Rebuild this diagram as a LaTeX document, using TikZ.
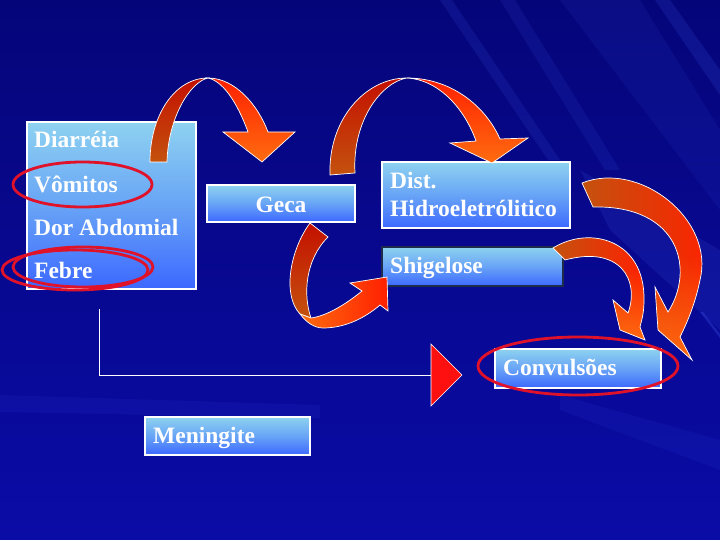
\documentclass[tikz,border=0pt]{standalone}
\usepackage{fontspec}
\setmainfont{Liberation Serif}
\usetikzlibrary{fadings}
\definecolor{bgtop}{HTML}{05057A}
\definecolor{bgbot}{HTML}{0A0CA6}
\definecolor{streakc}{HTML}{4A6CFF}
\definecolor{boxtop}{HTML}{8ED2F0}
\definecolor{boxmid}{HTML}{68A4F6}
\definecolor{boxbot}{HTML}{3C68FF}
\definecolor{ringred}{HTML}{E0122A}
\definecolor{darkred}{HTML}{C41000}
\definecolor{brownor}{HTML}{C4520E}
\definecolor{brightred}{HTML}{FF2000}
\definecolor{midred}{HTML}{E81800}
\definecolor{orng}{HTML}{FF6C10}
\definecolor{shigborder}{HTML}{1E2C4C}
\definecolor{trired}{HTML}{FF1010}
\newcommand\lblfont{\fontsize{23.5}{26}\selectfont\bfseries}
\begin{document}
\begin{tikzpicture}[x=1pt,y=-1pt,
  box/.style={draw=white,line width=1.6pt,top color=boxtop,bottom color=boxbot,middle color=boxmid,
              anchor=north west,inner sep=0pt,outer sep=0pt},
  lbl/.style={text=white,font=\lblfont,inner sep=0pt,anchor=base west},
  ring/.style={draw=ringred,line width=2.8pt},
  arr/.style={draw=white,line width=0.7pt},
  conn/.style={draw=white,line width=1pt},
  streak/.style={fill=streakc}]
\useasboundingbox (0,0) rectangle (720,540);
% background
\shade[top color=bgtop,bottom color=bgbot] (0,0) rectangle (720,540);
\fill[streak,opacity=0.12] (440,0) -- (452,0) -- (560,160) -- (548,160) -- cycle;
\fill[streak,opacity=0.10] (500,0) -- (515,0) -- (620,170) -- (605,170) -- cycle;
\fill[streak,opacity=0.08] (560,0) -- (640,0) -- (720,130) -- (720,210) -- cycle;
\fill[streak,opacity=0.14] (655,0) -- (670,0) -- (720,70) -- (720,95) -- cycle;
\fill[streak,opacity=0.12] (580,170) -- (720,250) -- (720,330) -- (610,230) -- cycle;
\fill[streak,opacity=0.25] (700,312) -- (703,312) -- (720,334) -- (720,338) -- cycle;
\fill[streak,opacity=0.07] (0,395) -- (320,405) -- (320,418) -- (0,412) -- cycle;
\fill[streak,opacity=0.07] (560,395) -- (720,440) -- (720,470) -- (560,410) -- cycle;
% connector
\coordinate (lineStart) at (99,309);
\coordinate (triBase) at (431,375);
\coordinate (triTop) at (431,344);
\coordinate (triTip) at (462,375);
\coordinate (triBot) at (431,406);
\draw[conn] (lineStart) |- (triBase);
\fill[trired,draw=white,line width=0.6pt] (triTop) -- (triTip) -- (triBot) -- cycle;
% boxes
\node[box,minimum width=169pt,minimum height=167pt] (sym) at (27,122) {};
\node[box,minimum width=148pt,minimum height=37pt] (geca) at (207,185) {};
\node[box,minimum width=188pt,minimum height=66pt] (dist) at (382,162) {};
\node[box,draw=shigborder,line width=2.4pt,minimum width=181pt,minimum height=39pt] (shig) at (382,247) {};
\node[box,minimum width=166pt,minimum height=39pt] (conv) at (495,349) {};
\node[box,minimum width=165pt,minimum height=38pt] (men) at (145,417) {};
% labels
\node[lbl] (tDiar) at (34,148) {Diarréia};
\node[lbl] (tVom) at (34,193) {Vômitos};
\node[lbl] (tDor) at (34,236) {Dor Abdomial};
\node[lbl] (tFeb) at (34,278) {Febre};
\node[lbl,anchor=base] (tGeca) at (281,212) {Geca};
\node[lbl] (tDist) at (390,189) {Dist.};
\node[lbl] (tHidro) at (390,217) {Hidroeletrólitico};
\node[lbl] (tShig) at (390,273) {Shigelose};
\node[lbl] (tConv) at (503,375) {Convulsões};
\node[lbl] (tMen) at (153,443) {Meningite};
% arrow 1
\shade[arr,top color=darkred,bottom color=brownor] (150,162) .. controls (150,115) and (175,78) .. (208,78) .. controls (190,82) and (168,118) .. (167,162) -- cycle;
\shade[arr,top color=brightred,bottom color=orng] (208,78) .. controls (235,78) and (258,105) .. (268,132) -- (295,132) -- (262,162) -- (223,132) -- (248,132) .. controls (240,110) and (226,82) .. (208,78) -- cycle;
% arrow 2
\shade[arr,top color=darkred,bottom color=brownor] (330,175) .. controls (328,120) and (365,78) .. (407,78) .. controls (382,82) and (352,120) .. (355,173) -- cycle;
\shade[arr,top color=brightred,bottom color=orng] (407,78) .. controls (450,78) and (485,105) .. (500,139) -- (528,138) -- (492,163) -- (450,143) -- (476,141) .. controls (465,110) and (440,80) .. (407,78) -- cycle;
% arrow 3
\shade[arr,top color=darkred,bottom color=brownor] (310,223) .. controls (290,250) and (282,295) .. (300,314) -- (311,318) .. controls (303,295) and (305,260) .. (328,237) -- cycle;
\shade[arr,left color=orng,right color=brightred] (300,314) .. controls (306,322) and (314,328) .. (323,328) .. controls (345,328) and (365,318) .. (380,305) -- (388,311) -- (387,277) -- (350,283) -- (362,291) .. controls (345,305) and (326,316) .. (311,318) -- cycle;
% arrow 4
\shade[left color=brownor,middle color=midred,right color=brightred] (553,248) .. controls (590,225) and (645,240) .. (644,300) .. controls (644,315) and (641,322) .. (640,327) -- (645,340) -- (620,330) -- (613,300) -- (628,313) .. controls (640,280) and (620,245) .. (565,260) -- cycle;
\begin{scope}
\clip (553,248) .. controls (590,225) and (645,240) .. (644,300) .. controls (644,315) and (641,322) .. (640,327) -- (645,340) -- (620,330) -- (613,300) -- (628,313) .. controls (640,280) and (620,245) .. (565,260) -- cycle;
\fill[orng,path fading=north] (600,270) rectangle (660,342);
\end{scope}
\draw[arr] (553,248) .. controls (590,225) and (645,240) .. (644,300) .. controls (644,315) and (641,322) .. (640,327) -- (645,340) -- (620,330) -- (613,300) -- (628,313) .. controls (640,280) and (620,245) .. (565,260) -- cycle;
% arrow 5
\shade[left color=brownor,middle color=midred,right color=brightred] (582,183) .. controls (640,160) and (715,220) .. (700,280) .. controls (695,305) and (686,325) .. (680,337) -- (692,360) -- (658,330) -- (655,287) -- (668,312) .. controls (695,270) and (680,205) .. (593,207) -- cycle;
\begin{scope}
\clip (582,183) .. controls (640,160) and (715,220) .. (700,280) .. controls (695,305) and (686,325) .. (680,337) -- (692,360) -- (658,330) -- (655,287) -- (668,312) .. controls (695,270) and (680,205) .. (593,207) -- cycle;
\fill[orng,path fading=north] (640,255) rectangle (720,362);
\end{scope}
\draw[arr] (582,183) .. controls (640,160) and (715,220) .. (700,280) .. controls (695,305) and (686,325) .. (680,337) -- (692,360) -- (658,330) -- (655,287) -- (668,312) .. controls (695,270) and (680,205) .. (593,207) -- cycle;
% red rings
\draw[ring] (82.5,184.5) ellipse [x radius=69.5,y radius=22.5];
\draw[ring] (75,270) ellipse [x radius=73,y radius=20];
\draw[ring] (83,267) ellipse [x radius=70,y radius=20];
\draw[ring] (578,366) ellipse [x radius=100,y radius=29];
\end{tikzpicture}
\end{document}
